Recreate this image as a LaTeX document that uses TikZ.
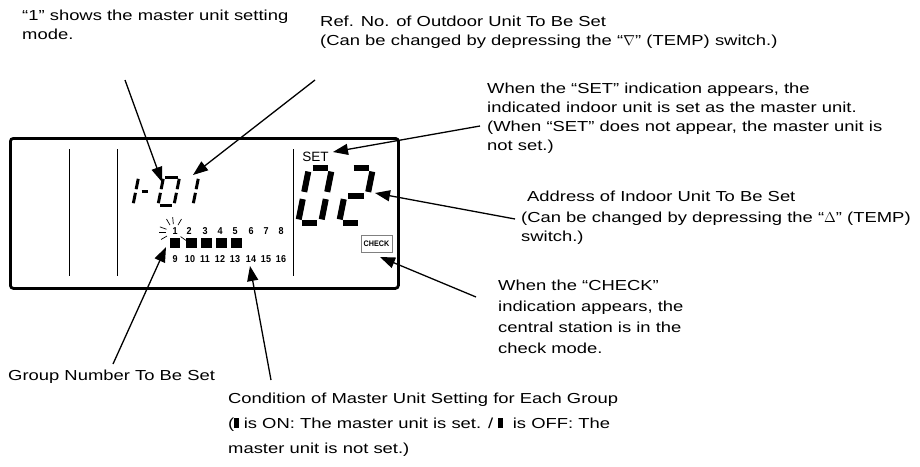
\documentclass[tikz,border=0pt]{standalone}
\usepackage{fontspec}
\setmainfont{Liberation Sans}[FakeStretch=1.27]
\newfontfamily\lcdfont{Liberation Sans}[FakeStretch=0.9]
\newfontfamily\plainfont{Liberation Sans}
\usetikzlibrary{arrows.meta}
\newcommand\digitsegs[6]{% style, x, y (bottom-left), w, h, segment list
  \begin{scope}[shift={(#2,#3)}, xslant=0.2]
    \pgfmathsetmacro\segw{#4}\pgfmathsetmacro\segh{#5}\pgfmathsetmacro\segg{0.065*#5}
    \coordinate (seg-a-1) at (\segg,-\segh);        \coordinate (seg-a-2) at (\segw-\segg,-\segh);
    \coordinate (seg-b-1) at (\segw,-\segh+\segg);  \coordinate (seg-b-2) at (\segw,-\segh/2-\segg);
    \coordinate (seg-c-1) at (\segw,-\segh/2+\segg);\coordinate (seg-c-2) at (\segw,-\segg);
    \coordinate (seg-d-1) at (\segg,0);             \coordinate (seg-d-2) at (\segw-\segg,0);
    \coordinate (seg-e-1) at (0,-\segg);            \coordinate (seg-e-2) at (0,-\segh/2+\segg);
    \coordinate (seg-f-1) at (0,-\segh/2-\segg);    \coordinate (seg-f-2) at (0,-\segh+\segg);
    \coordinate (seg-m-1) at (\segg,-\segh/2);      \coordinate (seg-m-2) at (\segw-\segg,-\segh/2);
    \foreach \s in {#6} {\draw[#1] (seg-\s-1) -- (seg-\s-2);}
  \end{scope}}
\begin{document}
\begin{tikzpicture}[x=1pt,y=-1pt,
  lbl/.style={font=\fontsize{14.5}{19}\selectfont, align=left, anchor=base west, inner sep=0pt},
  arr/.style={line width=1.3pt, -{Triangle[length=15pt,width=11pt]}},
  lcdnum/.style={font=\lcdfont\fontsize{10}{10}\selectfont\bfseries, inner sep=0pt},
  sq/.style={fill=black, minimum width=10.5pt, minimum height=10pt, inner sep=0pt},
  segs/.style={line width=3pt},
  segb/.style={line width=6pt},
  ray/.style={line width=0.7pt}]
\useasboundingbox (0,0) rectangle (920,466);

% LCD frame
\node[draw, line width=2.8pt, rounded corners=3pt, minimum width=388pt, minimum height=150pt,
      inner sep=0pt, anchor=north west] (lcd) at (9,137) {};
\draw[line width=1pt] (69,149) -- (69,276);
\draw[line width=1pt] (117,149) -- (117,276);
\draw[line width=1pt] (293,149) -- (293,276);

% small 7-segment "1-01"
\digitsegs{segs}{123}{205}{10}{28}{b,c}
\digitsegs{segs}{137}{205}{10}{28}{m}
\digitsegs{segs}{158}{205}{16}{28}{a,b,c,d,e,f}
\digitsegs{segs}{183}{205}{10}{28}{b,c}
% big 7-segment "02"
\digitsegs{segb}{298}{223}{23}{55}{a,b,c,d,e,f}
\digitsegs{segb}{339}{223}{23}{55}{a,b,m,e,d}

\node[font=\plainfont\fontsize{13.5}{13.5}\selectfont, inner sep=0pt] (set) at (315.5,157) {SET};
\node[draw=gray, line width=0.6pt, minimum width=31pt, minimum height=17pt, inner sep=0pt,
      font=\lcdfont\fontsize{8}{8}\selectfont\bfseries] (check) at (376.5,243.5) {CHECK};

% group numbers
\foreach \n/\x in {1/175,2/189,3/205,4/220,5/235,6/251,7/266,8/281}
  \node[lcdnum] (g\n) at (\x,231) {\n};
\foreach \n/\x in {9/175,10/190,11/205,12/220,13/235,14/251,15/266,16/281}
  \node[lcdnum] (g\n) at (\x,259) {\n};
\foreach \i/\x in {1/175,2/191.5,3/206.5,4/221.5,5/236.5}
  \node[sq] (s\i) at (\x,243) {};
% flashing rays round "1"
\foreach \a in {-60,-95,-120,-160,-180,150,35}
  \draw[ray, shift={(174,232)}] (\a:8) -- (\a:15);

% labels (anchor = baseline of the last line)
\node[lbl] (l1) at (22,39) {“1” shows the master unit setting\\mode.};
\node[lbl] (l2) at (320,45) {Ref. No. of Outdoor Unit To Be Set\\(Can be changed by depressing the “$\nabla$” (TEMP) switch.)};
\node[lbl] (l3) at (487,150) {When the “SET” indication appears, the\\indicated indoor unit is set as the master unit.\\(When “SET” does not appear, the master unit is\\not set.)};
\node[lbl] (l4) at (527,201) {Address of Indoor Unit To Be Set};
\node[lbl] (l4b) at (521,241) {(Can be changed by depressing the “$\Delta$” (TEMP)\\switch.)};
\node[lbl, font=\fontsize{14.5}{21}\selectfont] (l5) at (498,353) {When the “CHECK”\\indication appears, the\\central station is in the\\check mode.};
\node[lbl] (l6) at (8,380) {Group Number To Be Set};
\node[lbl, font=\fontsize{14.5}{25}\selectfont] (l7) at (228,453) {Condition of Master Unit Setting for Each Group\\(\rule{0.3em}{0.68em} is ON: The master unit is set. / \rule{0.3em}{0.68em}\ \ is OFF: The\\master unit is not set.)};

% arrows
\coordinate (a1s) at (125,80);  \coordinate (a1t) at (162,182);
\coordinate (a2s) at (315,80);  \coordinate (a2t) at (193,175);
\coordinate (a3s) at (480,126); \coordinate (a3t) at (333,152);
\coordinate (a4s) at (515,219); \coordinate (a4t) at (375,193);
\coordinate (a5s) at (476,297); \coordinate (a5t) at (380,257);
\coordinate (a6s) at (113,364); \coordinate (a6t) at (166,247);
\coordinate (a7s) at (271,380); \coordinate (a7t) at (250,266);
\foreach \k in {1,...,7} \draw[arr] (a\k s) -- (a\k t);
\end{tikzpicture}
\end{document}
